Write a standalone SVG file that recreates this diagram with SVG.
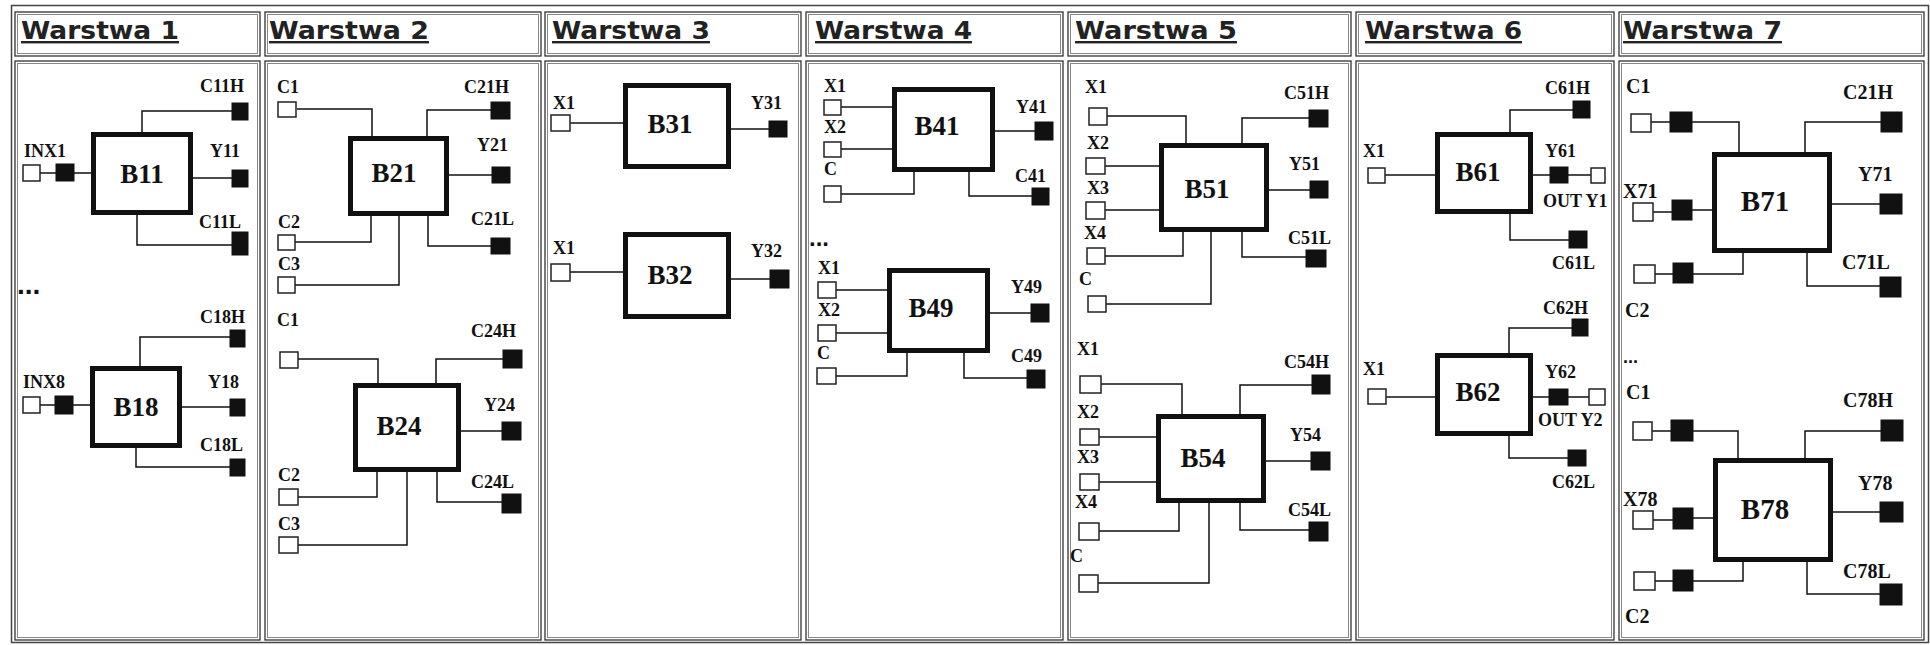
<svg xmlns="http://www.w3.org/2000/svg" width="1930" height="645" viewBox="0 0 1930 645">
<style>
.bg{fill:#fff}
.tbl{fill:#fff;stroke:#444;stroke-width:1.5}
.cell{fill:#fff;stroke:#333;stroke-width:1.3}
.cin{fill:none;stroke:#888;stroke-width:1}
.hdr{font-family:"DejaVu Sans",Verdana,sans-serif;font-weight:bold;font-size:24px;fill:#222;text-decoration:underline}
.blk{fill:#fff;stroke:#111;stroke-width:5}
.bl{font-family:"Liberation Serif","Times New Roman",serif;font-weight:bold;font-size:27px;fill:#111;text-anchor:middle}
.bl7{font-size:29px}
.lb{font-family:"Liberation Serif","Times New Roman",serif;font-weight:bold;font-size:18px;fill:#111}
.lb7{font-size:20px}
.in{fill:#fff;stroke:#222;stroke-width:1.5}
.out{fill:#111;stroke:#111;stroke-width:1}
.w{fill:none;stroke:#111;stroke-width:1.5}
.dots{font-family:"Liberation Sans",Arial,sans-serif;font-weight:bold;font-size:28px;fill:#111}
</style>
<rect class="bg" x="0" y="0" width="1930" height="645"/>
<g id="table">
<rect class="tbl" x="11.5" y="5.5" width="1917" height="637"/>
<rect class="cell" x="15" y="12" width="245" height="44"/><rect class="cin" x="17.5" y="14.5" width="240" height="39"/>
<rect class="cell" x="265" y="12" width="276" height="44"/><rect class="cin" x="267.5" y="14.5" width="271" height="39"/>
<rect class="cell" x="545" y="12" width="256" height="44"/><rect class="cin" x="547.5" y="14.5" width="251" height="39"/>
<rect class="cell" x="806" y="12" width="257" height="44"/><rect class="cin" x="808.5" y="14.5" width="252" height="39"/>
<rect class="cell" x="1068" y="12" width="283" height="44"/><rect class="cin" x="1070.5" y="14.5" width="278" height="39"/>
<rect class="cell" x="1356" y="12" width="258" height="44"/><rect class="cin" x="1358.5" y="14.5" width="253" height="39"/>
<rect class="cell" x="1619" y="12" width="305" height="44"/><rect class="cin" x="1621.5" y="14.5" width="300" height="39"/>
<rect class="cell" x="15" y="61" width="245" height="579"/><rect class="cin" x="17.5" y="63.5" width="240" height="574"/>
<rect class="cell" x="265" y="61" width="276" height="579"/><rect class="cin" x="267.5" y="63.5" width="271" height="574"/>
<rect class="cell" x="545" y="61" width="256" height="579"/><rect class="cin" x="547.5" y="63.5" width="251" height="574"/>
<rect class="cell" x="806" y="61" width="257" height="579"/><rect class="cin" x="808.5" y="63.5" width="252" height="574"/>
<rect class="cell" x="1068" y="61" width="283" height="579"/><rect class="cin" x="1070.5" y="63.5" width="278" height="574"/>
<rect class="cell" x="1356" y="61" width="258" height="579"/><rect class="cin" x="1358.5" y="63.5" width="253" height="574"/>
<rect class="cell" x="1619" y="61" width="305" height="579"/><rect class="cin" x="1621.5" y="63.5" width="300" height="574"/>
<text class="hdr" x="21" y="39" textLength="158" lengthAdjust="spacingAndGlyphs">Warstwa 1</text>
<text class="hdr" x="269" y="39" textLength="160" lengthAdjust="spacingAndGlyphs">Warstwa 2</text>
<text class="hdr" x="552" y="39" textLength="158" lengthAdjust="spacingAndGlyphs">Warstwa 3</text>
<text class="hdr" x="815" y="39" textLength="157" lengthAdjust="spacingAndGlyphs">Warstwa 4</text>
<text class="hdr" x="1075" y="39" textLength="162" lengthAdjust="spacingAndGlyphs">Warstwa 5</text>
<text class="hdr" x="1365" y="39" textLength="157" lengthAdjust="spacingAndGlyphs">Warstwa 6</text>
<text class="hdr" x="1623" y="39" textLength="159" lengthAdjust="spacingAndGlyphs">Warstwa 7</text>
<text class="dots" x="17" y="294">...</text>
<text class="dots" x="809" y="246" style="font-size:24px">...</text>
<text class="dots" x="1623" y="363" style="font-size:18px">...</text>
</g>
<g id="connectors">
<path class="w" d="M232,111 H142 V132"/>
<path class="w" d="M40,173 H56 M74,173 H91"/>
<path class="w" d="M193,178 H232"/>
<path class="w" d="M137,215 V245 H232"/>
<path class="w" d="M230,337 H140 V366"/>
<path class="w" d="M40,405 H55 M73,405 H90"/>
<path class="w" d="M182,407 H230"/>
<path class="w" d="M136,448 V467 H230"/>
<path class="w" d="M297,109 H372 V136"/>
<path class="w" d="M491,110 H427 V136"/>
<path class="w" d="M449,175 H492"/>
<path class="w" d="M428,216 V246 H491"/>
<path class="w" d="M295,242 H371 V216"/>
<path class="w" d="M295,285 H399 V216"/>
<path class="w" d="M298,359 H378 V383"/>
<path class="w" d="M503,359 H436 V383"/>
<path class="w" d="M461,431 H502"/>
<path class="w" d="M437,472 V502 H502"/>
<path class="w" d="M298,497 H377 V472"/>
<path class="w" d="M298,545 H407 V472"/>
<path class="w" d="M570,123 H623"/>
<path class="w" d="M731,129 H769"/>
<path class="w" d="M570,272 H623"/>
<path class="w" d="M731,279 H770"/>
<path class="w" d="M841,107 H892"/>
<path class="w" d="M841,149 H892"/>
<path class="w" d="M841,194 H914 V172"/>
<path class="w" d="M995,131 H1035"/>
<path class="w" d="M969,172 V196 H1032"/>
<path class="w" d="M836,290 H887"/>
<path class="w" d="M836,333 H887"/>
<path class="w" d="M836,376 H907 V353"/>
<path class="w" d="M990,313 H1031"/>
<path class="w" d="M964,353 V378 H1027"/>
<path class="w" d="M1107,116 H1186 V143"/>
<path class="w" d="M1309,118 H1242 V143"/>
<path class="w" d="M1105,166 H1159"/>
<path class="w" d="M1105,210 H1159"/>
<path class="w" d="M1105,256 H1183 V232"/>
<path class="w" d="M1106,304 H1211 V232"/>
<path class="w" d="M1269,190 H1310"/>
<path class="w" d="M1242,232 V257 H1306"/>
<path class="w" d="M1101,384 H1182 V414"/>
<path class="w" d="M1312,385 H1240 V414"/>
<path class="w" d="M1099,437 H1156"/>
<path class="w" d="M1099,482 H1156"/>
<path class="w" d="M1099,531 H1179 V503"/>
<path class="w" d="M1098,583 H1209 V503"/>
<path class="w" d="M1266,461 H1311"/>
<path class="w" d="M1240,503 V530 H1309"/>
<path class="w" d="M1385,175 H1435"/>
<path class="w" d="M1573,110 H1510 V132"/>
<path class="w" d="M1533,175 H1550 M1568,175 H1591"/>
<path class="w" d="M1510,214 V240 H1569"/>
<path class="w" d="M1386,397 H1435"/>
<path class="w" d="M1572,328 H1509 V353"/>
<path class="w" d="M1533,397 H1549 M1568,397 H1589"/>
<path class="w" d="M1509,436 V458 H1568"/>
<path class="w" d="M1651,122 H1670 M1692,122 H1739 V152"/>
<path class="w" d="M1881,122 H1805 V152"/>
<path class="w" d="M1653,212 H1672 M1692,210 H1712"/>
<path class="w" d="M1655,274 H1673 M1693,274 H1743 V253"/>
<path class="w" d="M1832,204 H1880"/>
<path class="w" d="M1807,253 V286 H1880"/>
<path class="w" d="M1652,431 H1671 M1693,431 H1738 V458"/>
<path class="w" d="M1881,431 H1805 V458"/>
<path class="w" d="M1653,520 H1673 M1693,518 H1713"/>
<path class="w" d="M1655,581 H1673 M1693,581 H1743 V562"/>
<path class="w" d="M1833,512 H1880"/>
<path class="w" d="M1807,562 V594 H1880"/>
</g>
<g id="B11"><rect class="blk" x="93.5" y="134.5" width="97" height="78"/><text class="bl" x="142" y="183">B11</text></g>
<g id="B11-C11H"><rect class="out" x="232" y="103" width="16" height="17"/><text class="lb" x="200" y="92">C11H</text></g>
<g id="B11-INX1"><rect class="in" x="23" y="165" width="17" height="16"/><rect class="out" x="56" y="164" width="18" height="17"/><text class="lb" x="24" y="157">INX1</text></g>
<g id="B11-Y11"><rect class="out" x="232" y="170" width="16" height="17"/><text class="lb" x="210" y="157">Y11</text></g>
<g id="B11-C11L"><rect class="out" x="232" y="232" width="16" height="23"/><text class="lb" x="199" y="228">C11L</text></g>
<g id="B18"><rect class="blk" x="92.5" y="368.5" width="87" height="77"/><text class="bl" x="136" y="416">B18</text></g>
<g id="B18-C18H"><rect class="out" x="230" y="330" width="15" height="17"/><text class="lb" x="200" y="323">C18H</text></g>
<g id="B18-INX8"><rect class="in" x="23" y="397" width="17" height="16"/><rect class="out" x="55" y="396" width="18" height="18"/><text class="lb" x="23" y="388">INX8</text></g>
<g id="B18-Y18"><rect class="out" x="230" y="399" width="15" height="17"/><text class="lb" x="208" y="388">Y18</text></g>
<g id="B18-C18L"><rect class="out" x="230" y="459" width="15" height="17"/><text class="lb" x="200" y="451">C18L</text></g>
<g id="B21"><rect class="blk" x="350.5" y="138.5" width="96" height="75"/><text class="bl" x="394" y="182">B21</text></g>
<g id="B21-C1"><rect class="in" x="278" y="102" width="18" height="15"/><text class="lb" x="277" y="93">C1</text></g>
<g id="B21-C21H"><rect class="out" x="491" y="102" width="19" height="17"/><text class="lb" x="464" y="93">C21H</text></g>
<g id="B21-Y21"><rect class="out" x="492" y="167" width="18" height="16"/><text class="lb" x="477" y="151">Y21</text></g>
<g id="B21-C21L"><rect class="out" x="491" y="238" width="19" height="16"/><text class="lb" x="471" y="225">C21L</text></g>
<g id="B21-C2"><rect class="in" x="278" y="235" width="17" height="15"/><text class="lb" x="278" y="228">C2</text></g>
<g id="B21-C3"><rect class="in" x="278" y="277" width="17" height="16"/><text class="lb" x="278" y="270">C3</text></g>
<g id="B24"><rect class="blk" x="355.5" y="385.5" width="103" height="84"/><text class="bl" x="399" y="435">B24</text></g>
<g id="B24-C1"><rect class="in" x="280" y="352" width="18" height="16"/><text class="lb" x="277" y="326">C1</text></g>
<g id="B24-C24H"><rect class="out" x="503" y="350" width="19" height="18"/><text class="lb" x="471" y="337">C24H</text></g>
<g id="B24-Y24"><rect class="out" x="502" y="422" width="19" height="18"/><text class="lb" x="484" y="411">Y24</text></g>
<g id="B24-C24L"><rect class="out" x="502" y="494" width="19" height="19"/><text class="lb" x="471" y="488">C24L</text></g>
<g id="B24-C2"><rect class="in" x="279" y="489" width="19" height="16"/><text class="lb" x="278" y="481">C2</text></g>
<g id="B24-C3"><rect class="in" x="279" y="537" width="19" height="16"/><text class="lb" x="278" y="530">C3</text></g>
<g id="B31"><rect class="blk" x="625.5" y="85.5" width="103" height="81"/><text class="bl" x="670" y="133">B31</text></g>
<g id="B31-X1"><rect class="in" x="551" y="115" width="19" height="16"/><text class="lb" x="553" y="109">X1</text></g>
<g id="B31-Y31"><rect class="out" x="769" y="121" width="18" height="16"/><text class="lb" x="751" y="109">Y31</text></g>
<g id="B32"><rect class="blk" x="625.5" y="234.5" width="103" height="82"/><text class="bl" x="670" y="284">B32</text></g>
<g id="B32-X1"><rect class="in" x="551" y="264" width="19" height="17"/><text class="lb" x="553" y="254">X1</text></g>
<g id="B32-Y32"><rect class="out" x="770" y="270" width="19" height="18"/><text class="lb" x="751" y="257">Y32</text></g>
<g id="B41"><rect class="blk" x="894.5" y="89.5" width="98" height="80"/><text class="bl" x="937" y="135">B41</text></g>
<g id="B41-X1"><rect class="in" x="824" y="100" width="17" height="15"/><text class="lb" x="824" y="92">X1</text></g>
<g id="B41-X2"><rect class="in" x="824" y="142" width="17" height="15"/><text class="lb" x="824" y="133">X2</text></g>
<g id="B41-C"><rect class="in" x="824" y="186" width="17" height="16"/><text class="lb" x="824" y="175">C</text></g>
<g id="B41-Y41"><rect class="out" x="1035" y="122" width="18" height="18"/><text class="lb" x="1016" y="113">Y41</text></g>
<g id="B41-C41"><rect class="out" x="1032" y="188" width="17" height="17"/><text class="lb" x="1015" y="182">C41</text></g>
<g id="B49"><rect class="blk" x="889.5" y="270.5" width="98" height="80"/><text class="bl" x="931" y="317">B49</text></g>
<g id="B49-X1"><rect class="in" x="818" y="282" width="18" height="16"/><text class="lb" x="818" y="274">X1</text></g>
<g id="B49-X2"><rect class="in" x="818" y="325" width="18" height="16"/><text class="lb" x="818" y="316">X2</text></g>
<g id="B49-C"><rect class="in" x="817" y="368" width="19" height="16"/><text class="lb" x="817" y="359">C</text></g>
<g id="B49-Y49"><rect class="out" x="1031" y="304" width="18" height="18"/><text class="lb" x="1011" y="293">Y49</text></g>
<g id="B49-C49"><rect class="out" x="1027" y="370" width="18" height="18"/><text class="lb" x="1011" y="362">C49</text></g>
<g id="B51"><rect class="blk" x="1161.5" y="145.5" width="105" height="84"/><text class="bl" x="1207" y="198">B51</text></g>
<g id="B51-X1"><rect class="in" x="1089" y="108" width="18" height="17"/><text class="lb" x="1085" y="93">X1</text></g>
<g id="B51-X2"><rect class="in" x="1086" y="158" width="19" height="16"/><text class="lb" x="1087" y="149">X2</text></g>
<g id="B51-X3"><rect class="in" x="1086" y="202" width="19" height="17"/><text class="lb" x="1087" y="194">X3</text></g>
<g id="B51-X4"><rect class="in" x="1087" y="248" width="18" height="16"/><text class="lb" x="1084" y="239">X4</text></g>
<g id="B51-C"><rect class="in" x="1088" y="296" width="18" height="16"/><text class="lb" x="1079" y="285">C</text></g>
<g id="B51-C51H"><rect class="out" x="1309" y="110" width="19" height="17"/><text class="lb" x="1284" y="99">C51H</text></g>
<g id="B51-Y51"><rect class="out" x="1310" y="181" width="18" height="17"/><text class="lb" x="1289" y="170">Y51</text></g>
<g id="B51-C51L"><rect class="out" x="1306" y="250" width="20" height="17"/><text class="lb" x="1288" y="244">C51L</text></g>
<g id="B54"><rect class="blk" x="1158.5" y="416.5" width="105" height="84"/><text class="bl" x="1203" y="467">B54</text></g>
<g id="B54-X1"><rect class="in" x="1080" y="376" width="21" height="17"/><text class="lb" x="1077" y="355">X1</text></g>
<g id="B54-X2"><rect class="in" x="1080" y="429" width="19" height="16"/><text class="lb" x="1077" y="418">X2</text></g>
<g id="B54-X3"><rect class="in" x="1080" y="474" width="19" height="16"/><text class="lb" x="1077" y="463">X3</text></g>
<g id="B54-X4"><rect class="in" x="1079" y="523" width="20" height="17"/><text class="lb" x="1075" y="508">X4</text></g>
<g id="B54-C"><rect class="in" x="1079" y="575" width="19" height="17"/><text class="lb" x="1070" y="562">C</text></g>
<g id="B54-C54H"><rect class="out" x="1312" y="375" width="18" height="19"/><text class="lb" x="1284" y="368">C54H</text></g>
<g id="B54-Y54"><rect class="out" x="1311" y="452" width="19" height="18"/><text class="lb" x="1290" y="441">Y54</text></g>
<g id="B54-C54L"><rect class="out" x="1309" y="522" width="19" height="19"/><text class="lb" x="1288" y="516">C54L</text></g>
<g id="B61"><rect class="blk" x="1437.5" y="134.5" width="93" height="77"/><text class="bl" x="1478" y="181">B61</text></g>
<g id="B61-X1"><rect class="in" x="1368" y="168" width="17" height="15"/><text class="lb" x="1363" y="157">X1</text></g>
<g id="B61-C61H"><rect class="out" x="1573" y="101" width="17" height="17"/><text class="lb" x="1545" y="94">C61H</text></g>
<g id="B61-Y61"><rect class="out" x="1550" y="167" width="18" height="16"/><text class="lb" x="1545" y="157">Y61</text></g>
<g id="OUT-Y1"><rect class="in" x="1591" y="168" width="14" height="15"/><text class="lb" x="1543" y="207">OUT Y1</text></g>
<g id="B61-C61L"><rect class="out" x="1569" y="231" width="18" height="17"/><text class="lb" x="1552" y="269">C61L</text></g>
<g id="B62"><rect class="blk" x="1437.5" y="355.5" width="93" height="78"/><text class="bl" x="1478" y="401">B62</text></g>
<g id="B62-X1"><rect class="in" x="1368" y="389" width="18" height="15"/><text class="lb" x="1363" y="375">X1</text></g>
<g id="B62-C62H"><rect class="out" x="1572" y="319" width="16" height="17"/><text class="lb" x="1543" y="314">C62H</text></g>
<g id="B62-Y62"><rect class="out" x="1549" y="389" width="19" height="16"/><text class="lb" x="1545" y="378">Y62</text></g>
<g id="OUT-Y2"><rect class="in" x="1589" y="389" width="16" height="16"/><text class="lb" x="1538" y="426">OUT Y2</text></g>
<g id="B62-C62L"><rect class="out" x="1568" y="450" width="18" height="16"/><text class="lb" x="1552" y="488">C62L</text></g>
<g id="B71"><rect class="blk" x="1714.5" y="154.5" width="115" height="96"/><text class="bl bl7" x="1765" y="211">B71</text></g>
<g id="B71-C1"><rect class="in" x="1631" y="114" width="20" height="18"/><rect class="out" x="1670" y="112" width="22" height="20"/><text class="lb lb7" x="1626" y="93">C1</text></g>
<g id="B71-X71"><rect class="in" x="1633" y="203" width="20" height="18"/><rect class="out" x="1672" y="200" width="20" height="20"/><text class="lb lb7" x="1623" y="198">X71</text></g>
<g id="B71-C2"><rect class="in" x="1634" y="265" width="21" height="18"/><rect class="out" x="1673" y="263" width="20" height="20"/><text class="lb lb7" x="1625" y="317">C2</text></g>
<g id="B71-C21H"><rect class="out" x="1881" y="112" width="21" height="20"/><text class="lb lb7" x="1843" y="99">C21H</text></g>
<g id="B71-Y71"><rect class="out" x="1880" y="194" width="22" height="20"/><text class="lb lb7" x="1858" y="181">Y71</text></g>
<g id="B71-C71L"><rect class="out" x="1880" y="277" width="21" height="20"/><text class="lb lb7" x="1842" y="269">C71L</text></g>
<g id="B78"><rect class="blk" x="1715.5" y="460.5" width="115" height="99"/><text class="bl bl7" x="1765" y="519">B78</text></g>
<g id="B78-C1"><rect class="in" x="1633" y="422" width="19" height="18"/><rect class="out" x="1671" y="420" width="22" height="21"/><text class="lb lb7" x="1626" y="399">C1</text></g>
<g id="B78-X78"><rect class="in" x="1633" y="511" width="20" height="18"/><rect class="out" x="1673" y="508" width="20" height="21"/><text class="lb lb7" x="1623" y="506">X78</text></g>
<g id="B78-C2"><rect class="in" x="1634" y="572" width="21" height="18"/><rect class="out" x="1673" y="570" width="20" height="21"/><text class="lb lb7" x="1625" y="623">C2</text></g>
<g id="B78-C78H"><rect class="out" x="1881" y="420" width="22" height="21"/><text class="lb lb7" x="1843" y="407">C78H</text></g>
<g id="B78-Y78"><rect class="out" x="1880" y="502" width="23" height="20"/><text class="lb lb7" x="1858" y="490">Y78</text></g>
<g id="B78-C78L"><rect class="out" x="1880" y="584" width="22" height="21"/><text class="lb lb7" x="1843" y="578">C78L</text></g>
</svg>
